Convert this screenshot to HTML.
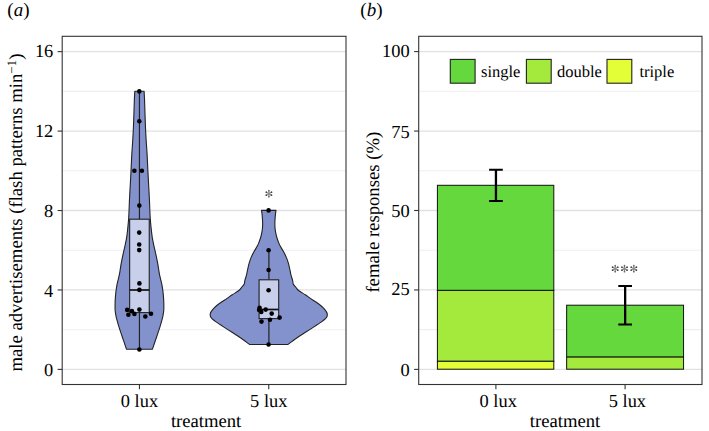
<!DOCTYPE html>
<html><head><meta charset="utf-8"><style>
html,body{margin:0;padding:0;background:#fff;}
body{width:709px;height:431px;overflow:hidden;}
svg{display:block;font-family:"Liberation Serif", serif;text-rendering:geometricPrecision;}
</style></head><body>
<svg width="709" height="431" viewBox="0 0 709 431">
<rect width="709" height="431" fill="#fff"/>
<rect x="62.20" y="36.30" width="283.80" height="348.20" fill="#fff"/>
<line x1="62.20" x2="346.00" y1="329.68" y2="329.68" stroke="#efefef" stroke-width="1.1"/>
<line x1="62.20" x2="346.00" y1="250.24" y2="250.24" stroke="#efefef" stroke-width="1.1"/>
<line x1="62.20" x2="346.00" y1="170.80" y2="170.80" stroke="#efefef" stroke-width="1.1"/>
<line x1="62.20" x2="346.00" y1="91.36" y2="91.36" stroke="#efefef" stroke-width="1.1"/>
<line x1="62.20" x2="346.00" y1="369.40" y2="369.40" stroke="#e1e1e1" stroke-width="1.3"/>
<line x1="62.20" x2="346.00" y1="289.96" y2="289.96" stroke="#e1e1e1" stroke-width="1.3"/>
<line x1="62.20" x2="346.00" y1="210.52" y2="210.52" stroke="#e1e1e1" stroke-width="1.3"/>
<line x1="62.20" x2="346.00" y1="131.08" y2="131.08" stroke="#e1e1e1" stroke-width="1.3"/>
<line x1="62.20" x2="346.00" y1="51.64" y2="51.64" stroke="#e1e1e1" stroke-width="1.3"/>
<path d="M144.10,91.30 C144.17,92.75 144.40,96.23 144.55,100.00 C144.70,103.77 144.84,109.27 145.00,113.90 C145.16,118.53 145.30,123.28 145.50,127.80 C145.70,132.32 145.92,136.45 146.20,141.00 C146.47,145.55 146.87,150.25 147.15,155.10 C147.42,159.95 147.60,165.08 147.85,170.10 C148.10,175.12 148.38,180.18 148.65,185.20 C148.92,190.22 149.26,196.18 149.45,200.20 C149.64,204.22 149.67,206.23 149.80,209.30 C149.93,212.37 150.03,215.50 150.25,218.60 C150.47,221.70 150.78,224.82 151.10,227.90 C151.42,230.98 151.78,234.37 152.20,237.10 C152.62,239.83 153.02,241.55 153.60,244.30 C154.18,247.05 155.03,250.50 155.70,253.60 C156.37,256.70 157.09,260.17 157.60,262.90 C158.11,265.63 158.43,268.05 158.75,270.00 C159.07,271.95 159.23,273.05 159.55,274.60 C159.87,276.15 160.28,277.75 160.65,279.30 C161.02,280.85 161.43,282.35 161.75,283.90 C162.07,285.45 162.32,287.05 162.55,288.60 C162.78,290.15 162.98,291.65 163.15,293.20 C163.32,294.75 163.44,296.35 163.55,297.90 C163.66,299.45 163.75,300.97 163.80,302.50 C163.85,304.03 163.86,305.77 163.85,307.10 C163.84,308.43 163.90,309.03 163.75,310.50 C163.60,311.97 163.32,314.08 162.95,315.90 C162.58,317.72 162.05,319.58 161.55,321.40 C161.05,323.22 160.52,324.98 159.95,326.80 C159.38,328.62 158.75,330.48 158.15,332.30 C157.55,334.12 156.97,335.88 156.35,337.70 C155.73,339.52 155.10,341.28 154.45,343.20 C153.80,345.12 152.78,348.20 152.45,349.20 L126.45,349.20 L126.45,349.20 C126.12,348.20 125.10,345.12 124.45,343.20 C123.80,341.28 123.17,339.52 122.55,337.70 C121.93,335.88 121.35,334.12 120.75,332.30 C120.15,330.48 119.52,328.62 118.95,326.80 C118.38,324.98 117.85,323.22 117.35,321.40 C116.85,319.58 116.32,317.72 115.95,315.90 C115.58,314.08 115.30,311.97 115.15,310.50 C115.00,309.03 115.06,308.43 115.05,307.10 C115.04,305.77 115.05,304.03 115.10,302.50 C115.15,300.97 115.24,299.45 115.35,297.90 C115.46,296.35 115.58,294.75 115.75,293.20 C115.92,291.65 116.12,290.15 116.35,288.60 C116.58,287.05 116.83,285.45 117.15,283.90 C117.47,282.35 117.88,280.85 118.25,279.30 C118.62,277.75 119.03,276.15 119.35,274.60 C119.67,273.05 119.82,271.95 120.15,270.00 C120.47,268.05 120.79,265.63 121.30,262.90 C121.81,260.17 122.53,256.70 123.20,253.60 C123.87,250.50 124.72,247.05 125.30,244.30 C125.88,241.55 126.28,239.83 126.70,237.10 C127.12,234.37 127.47,230.98 127.80,227.90 C128.12,224.82 128.43,221.70 128.65,218.60 C128.87,215.50 128.97,212.37 129.10,209.30 C129.23,206.23 129.26,204.22 129.45,200.20 C129.64,196.18 129.98,190.22 130.25,185.20 C130.52,180.18 130.80,175.12 131.05,170.10 C131.30,165.08 131.47,159.95 131.75,155.10 C132.03,150.25 132.42,145.55 132.70,141.00 C132.97,136.45 133.20,132.32 133.40,127.80 C133.60,123.28 133.74,118.53 133.90,113.90 C134.06,109.27 134.20,103.77 134.35,100.00 C134.50,96.23 134.72,92.75 134.80,91.30 Z" fill="#8392cc" stroke="#222" stroke-width="1.1" stroke-linejoin="round"/>
<path d="M276.00,210.40 C275.91,211.05 275.61,212.88 275.45,214.30 C275.29,215.72 275.15,217.35 275.05,218.90 C274.95,220.45 274.85,222.05 274.85,223.60 C274.85,225.15 274.90,226.65 275.05,228.20 C275.20,229.75 275.45,231.35 275.75,232.90 C276.05,234.45 276.40,235.97 276.85,237.50 C277.30,239.03 277.92,240.72 278.45,242.10 C278.98,243.48 279.22,244.22 280.05,245.80 C280.88,247.38 282.40,249.67 283.45,251.60 C284.50,253.53 285.53,255.47 286.35,257.40 C287.17,259.33 287.78,261.27 288.35,263.20 C288.92,265.13 289.32,267.07 289.75,269.00 C290.18,270.93 290.47,272.87 290.95,274.80 C291.43,276.73 292.27,279.07 292.65,280.60 C293.03,282.13 292.75,282.93 293.25,284.00 C293.75,285.07 294.85,286.00 295.65,287.00 C296.45,288.00 297.32,289.25 298.05,290.00 C298.78,290.75 298.85,290.70 300.05,291.50 C301.25,292.30 303.47,293.62 305.25,294.80 C307.03,295.98 308.90,297.35 310.75,298.60 C312.60,299.85 314.60,301.07 316.35,302.30 C318.10,303.53 319.83,304.77 321.25,306.00 C322.67,307.23 323.87,308.45 324.85,309.70 C325.83,310.95 326.85,312.25 327.15,313.50 C327.45,314.75 327.42,315.93 326.65,317.20 C325.88,318.47 324.15,319.83 322.55,321.10 C320.95,322.37 318.93,323.55 317.05,324.80 C315.17,326.05 313.18,327.35 311.25,328.60 C309.32,329.85 307.38,331.07 305.45,332.30 C303.52,333.53 301.52,334.77 299.65,336.00 C297.78,337.23 295.95,338.47 294.25,339.70 C292.55,340.93 290.52,342.60 289.45,343.40 C288.38,344.20 288.12,344.32 287.85,344.50 L249.65,344.50 L249.65,344.50 C249.38,344.32 249.12,344.20 248.05,343.40 C246.98,342.60 244.95,340.93 243.25,339.70 C241.55,338.47 239.72,337.23 237.85,336.00 C235.98,334.77 233.98,333.53 232.05,332.30 C230.12,331.07 228.18,329.85 226.25,328.60 C224.32,327.35 222.33,326.05 220.45,324.80 C218.57,323.55 216.55,322.37 214.95,321.10 C213.35,319.83 211.62,318.47 210.85,317.20 C210.08,315.93 210.05,314.75 210.35,313.50 C210.65,312.25 211.67,310.95 212.65,309.70 C213.63,308.45 214.83,307.23 216.25,306.00 C217.67,304.77 219.40,303.53 221.15,302.30 C222.90,301.07 224.90,299.85 226.75,298.60 C228.60,297.35 230.47,295.98 232.25,294.80 C234.03,293.62 236.25,292.30 237.45,291.50 C238.65,290.70 238.72,290.75 239.45,290.00 C240.18,289.25 241.05,288.00 241.85,287.00 C242.65,286.00 243.75,285.07 244.25,284.00 C244.75,282.93 244.47,282.13 244.85,280.60 C245.23,279.07 246.07,276.73 246.55,274.80 C247.03,272.87 247.32,270.93 247.75,269.00 C248.18,267.07 248.58,265.13 249.15,263.20 C249.72,261.27 250.33,259.33 251.15,257.40 C251.97,255.47 253.00,253.53 254.05,251.60 C255.10,249.67 256.62,247.38 257.45,245.80 C258.28,244.22 258.52,243.48 259.05,242.10 C259.58,240.72 260.20,239.03 260.65,237.50 C261.10,235.97 261.45,234.45 261.75,232.90 C262.05,231.35 262.30,229.75 262.45,228.20 C262.60,226.65 262.65,225.15 262.65,223.60 C262.65,222.05 262.55,220.45 262.45,218.90 C262.35,217.35 262.21,215.72 262.05,214.30 C261.89,212.88 261.59,211.05 261.50,210.40 Z" fill="#8392cc" stroke="#222" stroke-width="1.1" stroke-linejoin="round"/>
<line x1="139.45" x2="139.45" y1="91.40" y2="219.20" stroke="#222" stroke-width="1.2"/>
<line x1="139.45" x2="139.45" y1="312.60" y2="349.40" stroke="#222" stroke-width="1.2"/>
<rect x="129.65" y="219.20" width="19.60" height="93.40" fill="#c7cfea" stroke="#222" stroke-width="1.1"/>
<line x1="129.65" x2="149.25" y1="290.00" y2="290.00" stroke="#111" stroke-width="1.7"/>
<line x1="268.90" x2="268.90" y1="250.20" y2="279.80" stroke="#222" stroke-width="1.2"/>
<line x1="268.90" x2="268.90" y1="318.60" y2="344.50" stroke="#222" stroke-width="1.2"/>
<rect x="259.10" y="279.80" width="19.60" height="38.80" fill="#c7cfea" stroke="#222" stroke-width="1.1"/>
<line x1="259.10" x2="278.70" y1="309.50" y2="309.50" stroke="#111" stroke-width="1.7"/>
<circle cx="139.30" cy="91.40" r="2.3" fill="#000"/>
<circle cx="139.30" cy="121.20" r="2.3" fill="#000"/>
<circle cx="134.40" cy="170.80" r="2.3" fill="#000"/>
<circle cx="141.90" cy="170.80" r="2.3" fill="#000"/>
<circle cx="139.30" cy="205.60" r="2.3" fill="#000"/>
<circle cx="139.20" cy="232.60" r="2.3" fill="#000"/>
<circle cx="139.20" cy="244.50" r="2.3" fill="#000"/>
<circle cx="139.20" cy="250.10" r="2.3" fill="#000"/>
<circle cx="139.40" cy="283.40" r="2.3" fill="#000"/>
<circle cx="139.40" cy="289.90" r="2.3" fill="#000"/>
<circle cx="127.20" cy="309.90" r="2.3" fill="#000"/>
<circle cx="131.90" cy="311.10" r="2.3" fill="#000"/>
<circle cx="128.40" cy="314.80" r="2.3" fill="#000"/>
<circle cx="134.40" cy="313.90" r="2.3" fill="#000"/>
<circle cx="139.40" cy="309.60" r="2.3" fill="#000"/>
<circle cx="145.30" cy="316.50" r="2.3" fill="#000"/>
<circle cx="151.00" cy="313.70" r="2.3" fill="#000"/>
<circle cx="139.40" cy="349.50" r="2.3" fill="#000"/>
<circle cx="268.60" cy="210.40" r="2.3" fill="#000"/>
<circle cx="268.60" cy="250.20" r="2.3" fill="#000"/>
<circle cx="268.60" cy="270.00" r="2.3" fill="#000"/>
<circle cx="268.60" cy="290.20" r="2.3" fill="#000"/>
<circle cx="259.60" cy="307.80" r="2.3" fill="#000"/>
<circle cx="259.10" cy="309.90" r="2.3" fill="#000"/>
<circle cx="261.30" cy="311.90" r="2.3" fill="#000"/>
<circle cx="265.70" cy="309.60" r="2.3" fill="#000"/>
<circle cx="271.70" cy="313.60" r="2.3" fill="#000"/>
<circle cx="279.60" cy="317.60" r="2.3" fill="#000"/>
<circle cx="270.00" cy="319.70" r="2.3" fill="#000"/>
<circle cx="261.50" cy="321.60" r="2.3" fill="#000"/>
<circle cx="268.60" cy="344.50" r="2.3" fill="#000"/>
<path d="M268.90,190.70 L268.90,196.70 M266.30,192.20 L271.50,195.20 M266.30,195.20 L271.50,192.20 " stroke="#8a8a8a" stroke-width="1.1" fill="none"/>
<circle cx="268.90" cy="196.70" r="0.85" fill="#666"/><circle cx="268.90" cy="190.70" r="0.85" fill="#666"/><circle cx="271.50" cy="195.20" r="0.85" fill="#444"/><circle cx="266.30" cy="192.20" r="0.85" fill="#444"/><circle cx="271.50" cy="192.20" r="0.85" fill="#444"/><circle cx="266.30" cy="195.20" r="0.85" fill="#444"/>
<rect x="62.20" y="36.30" width="283.80" height="348.20" fill="none" stroke="#333333" stroke-width="1.1"/>
<line x1="57.6" x2="62.20" y1="369.40" y2="369.40" stroke="#333333" stroke-width="1.1"/>
<text x="53.3" y="375.90" font-size="18.4" text-anchor="end">0</text>
<line x1="57.6" x2="62.20" y1="289.96" y2="289.96" stroke="#333333" stroke-width="1.1"/>
<text x="53.3" y="296.90" font-size="18.4" text-anchor="end">4</text>
<line x1="57.6" x2="62.20" y1="210.52" y2="210.52" stroke="#333333" stroke-width="1.1"/>
<text x="53.3" y="217.40" font-size="18.4" text-anchor="end">8</text>
<line x1="57.6" x2="62.20" y1="131.08" y2="131.08" stroke="#333333" stroke-width="1.1"/>
<text x="53.3" y="137.40" font-size="18.4" text-anchor="end">12</text>
<line x1="57.6" x2="62.20" y1="51.64" y2="51.64" stroke="#333333" stroke-width="1.1"/>
<text x="53.3" y="57.25" font-size="18.4" text-anchor="end">16</text>
<line x1="139.45" x2="139.45" y1="384.50" y2="389.2" stroke="#333333" stroke-width="1.1"/>
<text x="139.45" y="407.3" font-size="18.4" text-anchor="middle">0 lux</text>
<line x1="268.75" x2="268.75" y1="384.50" y2="389.2" stroke="#333333" stroke-width="1.1"/>
<text x="268.75" y="407.3" font-size="18.4" text-anchor="middle">5 lux</text>
<text x="206.1" y="426.9" font-size="18.65" text-anchor="middle">treatment</text>
<text transform="translate(21.6,212.6) rotate(-90)" font-size="18.7" text-anchor="middle">male advertisements (flash patterns min<tspan font-size="13" dy="-5.2">−1</tspan><tspan dy="5.2">)</tspan></text>
<text x="7.3" y="15.8" font-size="19">(<tspan font-style="italic">a</tspan>)</text>
<rect x="418.70" y="36.30" width="283.30" height="348.20" fill="#fff"/>
<line x1="418.70" x2="702.00" y1="329.67" y2="329.67" stroke="#efefef" stroke-width="1.1"/>
<line x1="418.70" x2="702.00" y1="250.22" y2="250.22" stroke="#efefef" stroke-width="1.1"/>
<line x1="418.70" x2="702.00" y1="170.77" y2="170.77" stroke="#efefef" stroke-width="1.1"/>
<line x1="418.70" x2="702.00" y1="91.32" y2="91.32" stroke="#efefef" stroke-width="1.1"/>
<line x1="418.70" x2="702.00" y1="369.40" y2="369.40" stroke="#e1e1e1" stroke-width="1.3"/>
<line x1="418.70" x2="702.00" y1="289.95" y2="289.95" stroke="#e1e1e1" stroke-width="1.3"/>
<line x1="418.70" x2="702.00" y1="210.50" y2="210.50" stroke="#e1e1e1" stroke-width="1.3"/>
<line x1="418.70" x2="702.00" y1="131.05" y2="131.05" stroke="#e1e1e1" stroke-width="1.3"/>
<line x1="418.70" x2="702.00" y1="51.60" y2="51.60" stroke="#e1e1e1" stroke-width="1.3"/>
<rect x="437.40" y="185.30" width="116.40" height="105.10" fill="#64d83c" stroke="#111" stroke-width="1.0"/>
<rect x="437.40" y="290.40" width="116.40" height="70.90" fill="#a3ea3c" stroke="#111" stroke-width="1.0"/>
<rect x="437.40" y="361.30" width="116.40" height="7.90" fill="#e3fd36" stroke="#111" stroke-width="1.0"/>
<rect x="566.65" y="305.20" width="116.90" height="51.90" fill="#64d83c" stroke="#111" stroke-width="1.0"/>
<rect x="566.65" y="357.10" width="116.90" height="12.10" fill="#a3ea3c" stroke="#111" stroke-width="1.0"/>
<path d="M495.95,169.85 V201.00" stroke="#000" stroke-width="2.3" fill="none"/>
<path d="M489.10,169.85 H502.80 M489.10,201.00 H502.80" stroke="#000" stroke-width="2.0" fill="none"/>
<path d="M625.15,285.90 V324.60" stroke="#000" stroke-width="2.3" fill="none"/>
<path d="M618.30,285.90 H632.00 M618.30,324.60 H632.00" stroke="#000" stroke-width="2.0" fill="none"/>
<path d="M615.20,265.70 L615.20,271.70 M612.60,267.20 L617.80,270.20 M612.60,270.20 L617.80,267.20 " stroke="#8a8a8a" stroke-width="1.1" fill="none"/>
<circle cx="615.20" cy="271.70" r="0.85" fill="#666"/><circle cx="615.20" cy="265.70" r="0.85" fill="#666"/><circle cx="617.80" cy="270.20" r="0.85" fill="#444"/><circle cx="612.60" cy="267.20" r="0.85" fill="#444"/><circle cx="617.80" cy="267.20" r="0.85" fill="#444"/><circle cx="612.60" cy="270.20" r="0.85" fill="#444"/>
<path d="M624.50,265.70 L624.50,271.70 M621.90,267.20 L627.10,270.20 M621.90,270.20 L627.10,267.20 " stroke="#8a8a8a" stroke-width="1.1" fill="none"/>
<circle cx="624.50" cy="271.70" r="0.85" fill="#666"/><circle cx="624.50" cy="265.70" r="0.85" fill="#666"/><circle cx="627.10" cy="270.20" r="0.85" fill="#444"/><circle cx="621.90" cy="267.20" r="0.85" fill="#444"/><circle cx="627.10" cy="267.20" r="0.85" fill="#444"/><circle cx="621.90" cy="270.20" r="0.85" fill="#444"/>
<path d="M633.80,265.70 L633.80,271.70 M631.20,267.20 L636.40,270.20 M631.20,270.20 L636.40,267.20 " stroke="#8a8a8a" stroke-width="1.1" fill="none"/>
<circle cx="633.80" cy="271.70" r="0.85" fill="#666"/><circle cx="633.80" cy="265.70" r="0.85" fill="#666"/><circle cx="636.40" cy="270.20" r="0.85" fill="#444"/><circle cx="631.20" cy="267.20" r="0.85" fill="#444"/><circle cx="636.40" cy="267.20" r="0.85" fill="#444"/><circle cx="631.20" cy="270.20" r="0.85" fill="#444"/>
<rect x="450.30" y="59.4" width="24.8" height="23.8" fill="#64d83c" stroke="#222" stroke-width="1.1"/>
<text x="481.00" y="76.9" font-size="16.5">single</text>
<rect x="526.40" y="59.4" width="24.8" height="23.8" fill="#a3ea3c" stroke="#222" stroke-width="1.1"/>
<text x="556.90" y="76.9" font-size="16.5">double</text>
<rect x="607.00" y="59.4" width="24.8" height="23.8" fill="#e3fd36" stroke="#222" stroke-width="1.1"/>
<text x="639.40" y="76.9" font-size="16.5">triple</text>
<rect x="418.70" y="36.30" width="283.30" height="348.20" fill="none" stroke="#333333" stroke-width="1.1"/>
<line x1="414.10" x2="418.70" y1="369.40" y2="369.40" stroke="#333333" stroke-width="1.1"/>
<text x="409.70" y="375.90" font-size="18.4" text-anchor="end">0</text>
<line x1="414.10" x2="418.70" y1="289.95" y2="289.95" stroke="#333333" stroke-width="1.1"/>
<text x="409.70" y="295.35" font-size="18.4" text-anchor="end">25</text>
<line x1="414.10" x2="418.70" y1="210.50" y2="210.50" stroke="#333333" stroke-width="1.1"/>
<text x="409.70" y="217.15" font-size="18.4" text-anchor="end">50</text>
<line x1="414.10" x2="418.70" y1="131.05" y2="131.05" stroke="#333333" stroke-width="1.1"/>
<text x="409.70" y="137.65" font-size="18.4" text-anchor="end">75</text>
<line x1="414.10" x2="418.70" y1="51.60" y2="51.60" stroke="#333333" stroke-width="1.1"/>
<text x="409.70" y="57.25" font-size="18.4" text-anchor="end">100</text>
<line x1="495.90" x2="495.90" y1="384.50" y2="389.2" stroke="#333333" stroke-width="1.1"/>
<text x="498.20" y="407.2" font-size="18.4" text-anchor="middle">0 lux</text>
<line x1="625.10" x2="625.10" y1="384.50" y2="389.2" stroke="#333333" stroke-width="1.1"/>
<text x="627.40" y="407.2" font-size="18.4" text-anchor="middle">5 lux</text>
<text x="565.0" y="426.9" font-size="18.65" text-anchor="middle">treatment</text>
<text transform="translate(379.1,212.2) rotate(-90)" font-size="18.7" text-anchor="middle">female responses (%)</text>
<text x="360.3" y="15.8" font-size="19">(<tspan font-style="italic">b</tspan>)</text>
</svg>
</body></html>
